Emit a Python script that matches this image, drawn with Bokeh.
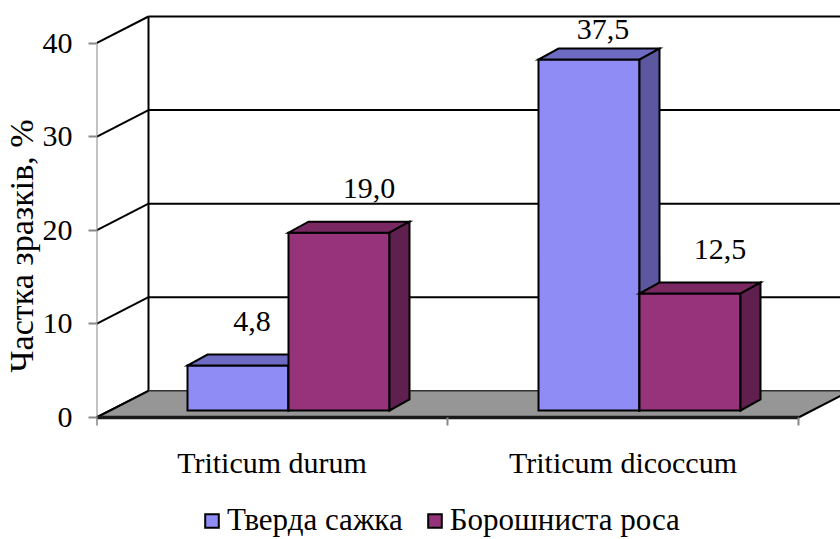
import numpy as np
from bokeh.plotting import figure
from bokeh.models import Range1d, FixedTicker, Legend, LegendItem, Title
from bokeh.core.properties import value
from bokeh.embed import file_html
from bokeh.resources import INLINE

# ---------------- data ----------------
categories = ["Triticum durum", "Triticum dicoccum"]
series_names = ["Тверда сажка", "Борошниста роса"]
smut_values = [4.8, 37.5]      # Тверда сажка
mildew_values = [19.0, 12.5]   # Борошниста роса
y_ticks = [0, 10, 20, 30, 40]
y_title = "Частка зразків, %"

# ---------------- style / geometry ----------------
FONT = "Liberation Serif"
W, H = 840, 539
PX_Y = 9.3575          # px per value unit
PX_X = 351.0           # px per category
Y0_IMG = 417.0         # canvas row of value 0 on the front plane
X0_IMG = 96.0          # canvas column of the value axis
y_start = (Y0_IMG - H) / PX_Y
y_end = Y0_IMG / PX_Y
x_start = 0.0
x_end = (W - X0_IMG) / PX_X

DX, DY = 52 / PX_X, 26.7 / PX_Y          # depth of the chart box
BDX, BDY = 20 / PX_X, 11 / PX_Y          # depth of a bar
BAR_W = 101 / PX_X
BAR_OFF = 91 / PX_X                      # left of first bar within its category
BAR_BASE = 7 / PX_Y                      # bar front bottom above front floor edge
LABEL_GAP = 44 / PX_Y
LABEL_CAP = (Y0_IMG - 28.5) / PX_Y
LABEL_NUDGE = [4 / PX_X, 20 / PX_X]

front_cols = ["#8F8CF6", "#96337A"]
top_cols = ["#6E6BC2", "#7A2862"]
side_cols = ["#5B58A0", "#5F1F4F"]

series_values = [smut_values, mildew_values]
ncat = len(categories)
top_val = max(y_ticks)

p = figure(width=W, height=H, output_backend="svg", toolbar_location=None,
           x_range=Range1d(x_start, x_end), y_range=Range1d(y_start, y_end),
           min_border_left=int(X0_IMG), min_border_right=0, min_border_top=0,
           min_border_bottom=0, x_axis_location=None)
p.outline_line_color = None
p.grid.visible = False
p.background_fill_color = "white"
p.border_fill_color = "white"

# y axis (library axis)
ax = p.yaxis[0]
ax.ticker = FixedTicker(ticks=y_ticks)
ax.axis_line_color = None
ax.major_tick_out = 8
ax.major_tick_in = 0
ax.major_tick_line_color = "#888888"
ax.major_tick_line_width = 2
ax.minor_tick_line_color = None
ax.major_label_text_font = FONT
ax.major_label_text_font_size = "30px"
ax.major_label_text_color = "black"
ax.major_label_standoff = 16

# value-axis title, placed outside the axis, shifted up like the reference
p.add_layout(Title(text=y_title, align="left", offset=167, standoff=0,
                   text_font=FONT, text_font_size="34px", text_font_style="normal",
                   text_color="black"), "left")

# ---------------- walls ----------------
grid_vals = [v for v in y_ticks if v > 0]
p.segment(x0=[0.0] * len(y_ticks), y0=y_ticks, x1=[DX] * len(y_ticks),
          y1=[v + DY for v in y_ticks], line_color="black", line_width=2)
p.segment(x0=[DX] * len(grid_vals), y0=[v + DY for v in grid_vals],
          x1=[ncat + DX + 0.2] * len(grid_vals), y1=[v + DY for v in grid_vals],
          line_color="black", line_width=2)
p.segment(x0=[DX], y0=[DY], x1=[DX], y1=[top_val + DY], line_color="black", line_width=2)

# floor
p.patch(x=[0, ncat, ncat + DX, DX], y=[0, 0, DY, DY], fill_color="#969696", line_color=None)
p.segment(x0=[DX], y0=[DY], x1=[ncat + DX], y1=[DY], line_color="#303030", line_width=1.5)
p.segment(x0=[0, ncat], y0=[0, 0], x1=[DX, ncat + DX], y1=[DY, DY], line_color="black", line_width=2)
p.segment(x0=[0], y0=[0], x1=[ncat], y1=[0], line_color="#1a1a1a", line_width=3.5)

# axis line and category tick marks
p.segment(x0=[0], y0=[-8 / PX_Y], x1=[0], y1=[top_val], line_color="#888888", line_width=2)
cat_bounds = list(range(ncat + 1))
p.segment(x0=cat_bounds, y0=[0] * len(cat_bounds), x1=cat_bounds,
          y1=[-8 / PX_Y] * len(cat_bounds), line_color="#888888", line_width=2)

# ---------------- bars (one renderer per series) ----------------
lab_x, lab_y, lab_t = [], [], []
bar_renderers = []
for s, vals in enumerate(series_values):
    xs, ys, fills = [], [], []
    for i in range(ncat):
        v = vals[i]
        L = i + BAR_OFF + s * BAR_W
        R = L + BAR_W
        B = BAR_BASE
        T = v + BAR_BASE
        xs.append([L, R, R, L]); ys.append([B, B, T, T]); fills.append(front_cols[s])
        xs.append([L, R, R + BDX, L + BDX]); ys.append([T, T, T + BDY, T + BDY]); fills.append(top_cols[s])
        xs.append([R, R + BDX, R + BDX, R]); ys.append([B, B + BDY, T + BDY, T]); fills.append(side_cols[s])
        lab_x.append((L + R) / 2 + BDX / 2 + LABEL_NUDGE[s])
        lab_y.append(min(T + LABEL_GAP, LABEL_CAP))
        lab_t.append(f"{v:.1f}".replace(".", ","))
    r = p.patches(xs=xs, ys=ys, fill_color=fills, line_color="black", line_width=2,
                  line_join="miter")
    bar_renderers.append(r)

p.text(x=lab_x, y=lab_y, text=lab_t, text_font=value(FONT), text_font_size="30px",
       text_align="center", text_baseline="middle", text_color="black")

# category labels
p.text(x=[i + 0.5 for i in range(ncat)], y=[-(461.7 - Y0_IMG) / PX_Y] * ncat, text=categories,
       text_font=value(FONT), text_font_size="30px", text_align="center",
       text_baseline="alphabetic", text_color="black")

# ---------------- legend ----------------
legend_items = [LegendItem(label=name, renderers=[bar_renderers[s]], index=0)
                for s, name in enumerate(series_names)]
legend = Legend(items=legend_items, orientation="horizontal", location=(107, 1),
                glyph_width=17, glyph_height=17, label_standoff=7, spacing=23,
                padding=0, margin=0, border_line_color=None, background_fill_alpha=0,
                label_text_font=FONT, label_text_font_size="31px", label_text_color="black")
p.add_layout(legend)

open("out.html", "w").write(file_html(p, INLINE))
